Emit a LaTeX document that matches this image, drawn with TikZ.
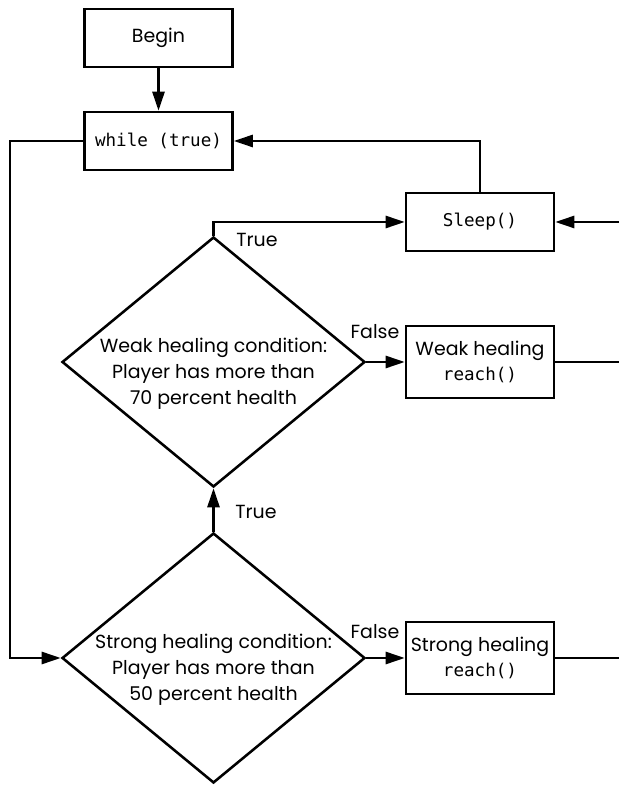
\documentclass[tikz,border=0pt]{standalone}
\usepackage{fontspec}
\setmainfont{Poppins}
\setmonofont{DejaVu Sans Mono}
\usetikzlibrary{shapes.geometric,arrows.meta}

\begin{document}
\begin{tikzpicture}[font=\fontsize{10.8}{14.7}\selectfont,line width=1.45pt,
  box/.style={draw,minimum width=2.96cm,minimum height=1.16cm,align=center,inner sep=2pt},
  tallbox/.style={box,minimum height=1.44cm},
  cond/.style={draw,diamond,minimum width=6.06cm,minimum height=5cm,inner sep=0pt},
  condtext/.style={align=center},
  arr/.style={-{Triangle[length=0.38cm,width=0.24cm]}},
  tag/.style={inner sep=1pt}]
\useasboundingbox (0,0) rectangle (12.38,15.7);
% boxes
\node[box] (begin) at (3.17,14.94){Begin};
\node[box] (while) at (3.17,12.88){\texttt{\fontsize{10}{12}\selectfont while (true)}};
\node[box] (sleep) at (9.6,11.26){\texttt{\fontsize{10}{12}\selectfont Sleep()}};
\node[tallbox] (weakbox) at (9.6,8.46){Weak healing\\\texttt{\fontsize{10}{12}\selectfont reach()}};
\node[tallbox] (strongbox) at (9.6,2.54){Strong healing\\\texttt{\fontsize{10}{12}\selectfont reach()}};
% conditions
\node[cond] (weak) at (4.27,8.46){};
\node[condtext] (weaktxt) at (4.27,8.22){Weak healing condition:\\Player has more than\\70 percent health};
\node[cond] (strong) at (4.27,2.54){};
\node[condtext] (strongtxt) at (4.27,2.30){Strong healing condition:\\Player has more than\\50 percent health};
% edge of the picture
\coordinate (loopx) at (0.2,0);
\coordinate (rim) at (12.38,0);
% connectors
\draw[arr] (begin) -- (while);
\draw[arr] (while.west) -- (while.west -| loopx) |- (strong.west);
\draw[arr] (sleep.north) |- (while.east);
\draw[arr] (weak.north) |- (sleep.west);
\draw[arr] (sleep.east -| rim) -- (sleep.east);
\draw[arr] (weak.east) -- (weakbox.west);
\draw[arr] (strong.north) -- (weak.south);
\draw[arr] (strong.east) -- (strongbox.west);
\draw (weakbox.east) -- (weakbox.east -| rim);
\draw (strongbox.east) -- (strongbox.east -| rim);
% labels
\node[tag] (weaktrue) at (5.14,10.9){True};
\node[tag] (strongtrue) at (5.12,5.46){True};
\node[tag] (weakfalse) at (7.5,9.06){False};
\node[tag] (strongfalse) at (7.5,3.06){False};
\end{tikzpicture}
\end{document}
